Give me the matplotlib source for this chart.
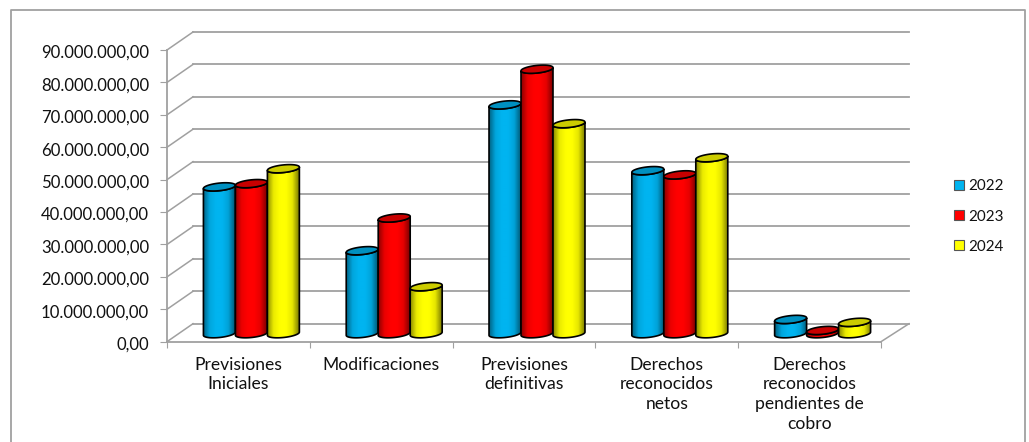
import numpy as np
import matplotlib
matplotlib.use('Agg')
import matplotlib.pyplot as plt
from matplotlib.patches import PathPatch, Patch, Polygon
from matplotlib.path import Path
from matplotlib.colors import LinearSegmentedColormap, to_rgb
from matplotlib.transforms import Affine2D, IdentityTransform

plt.rcParams['font.family'] = ['Lato', 'DejaVu Sans']

categories = ['Previsiones\nIniciales', 'Modificaciones', 'Previsiones\ndefinitivas',
              'Derechos\nreconocidos\nnetos', 'Derechos\nreconocidos\npendientes de\ncobro']
years = ['2022', '2023', '2024']
v2022 = [45.3e6, 25.6e6, 70.6e6, 50.3e6, 4.4e6]
v2023 = [46.3e6, 35.7e6, 81.6e6, 49.0e6, 1.0e6]
v2024 = [50.9e6, 14.5e6, 64.8e6, 54.3e6, 3.5e6]
yticks = [0, 10e6, 20e6, 30e6, 40e6, 50e6, 60e6, 70e6, 80e6, 90e6]
ylabels = ['0,00', '10.000.000,00', '20.000.000,00', '30.000.000,00', '40.000.000,00',
           '50.000.000,00', '60.000.000,00', '70.000.000,00', '80.000.000,00', '90.000.000,00']

series = [v2022, v2023, v2024]
colors = ['#00B4F0', '#FF0000', '#FFFF00']
tops = ['#0090C0', '#C80000', '#CCCC00']
grey = '#A0A0A0'

W, H = 1029, 442
fig = plt.figure(figsize=(W / 100, H / 100), dpi=100)

# frame around the chart, bottom edge is cut off in the original
fig.add_artist(plt.Line2D([10.5 / W, 10.5 / W, 1025 / W, 1025 / W],
                          [0, 1 - 9.5 / H, 1 - 9.5 / H, 0], color=grey, lw=1.3))

# front plane of the 3d box
ax = fig.add_axes([167 / W, 1 - 341.7 / H, 714 / W, 291.7 / H])
ax.set_xlim(0, 5)
ax.set_ylim(0, 90e6)
ax.patch.set_alpha(0)
for s in ['top', 'right']:
    ax.spines[s].set_visible(False)
for s in ['left', 'bottom']:
    ax.spines[s].set_color(grey)
    ax.spines[s].set_linewidth(1.3)

ax.set_yticks(yticks)
ax.set_yticklabels(ylabels, fontsize=12.1, color='#111111')
ax.tick_params(axis='y', length=5, color=grey, pad=8)
for lbl in ax.get_yticklabels():
    lbl.set_transform(lbl.get_transform() + Affine2D().translate(0, -1.5))
ax.set_xticks(range(6))
ax.set_xticklabels([])
ax.tick_params(axis='x', which='major', length=4, color=grey)
ax.set_xticks(np.arange(5) + 0.5, minor=True)
ax.set_xticklabels(categories, minor=True, fontsize=12.6, color='#111111', linespacing=1.27)
ax.tick_params(axis='x', which='minor', length=0, pad=11)

depth = Affine2D().translate(26, 18)
back = ax.transData + depth
wall_end = 5 + 2 / 142.8
for t in yticks:
    if t > 0:
        ax.plot([0, wall_end], [t, t], color=grey, lw=1.3, transform=back, clip_on=False, zorder=1)
    x0, y0 = ax.transData.transform((0, t))
    ax.plot([x0, x0 + 26], [y0, y0 + 18], color=grey, lw=1.1,
            transform=IdentityTransform(), clip_on=False, zorder=1)
x0, y0 = ax.transData.transform((5, 0))
ax.plot([x0, x0 + 28], [y0, y0 + 18], color=grey, lw=1.1,
        transform=IdentityTransform(), clip_on=False, zorder=1)
ax.plot([0, wall_end], [0, 0], color=grey, lw=1.3, transform=back, clip_on=False, zorder=1)


def cylinder(x, value, color, top, z):
    cx, base = ax.transData.transform((x, 0)) + (13, 8)
    _, head = ax.transData.transform((x, value)) + (13, 8)
    x1, _ = ax.transData.transform((x + bar_w / 2, 0)) + (13, 8)
    rx = x1 - cx
    ry, tilt = 3.8, 1.6

    t = np.linspace(np.pi, 2 * np.pi, 40)
    low_x = cx + rx * np.cos(t)
    low_y = base + ry * np.sin(t) + tilt * np.cos(t)
    t2 = t[::-1]
    up_x = cx + rx * np.cos(t2)
    up_y = head + ry * np.sin(t2) + tilt * np.cos(t2)
    pts = np.vstack([np.column_stack([low_x, low_y]), np.column_stack([up_x, up_y])])
    body = Polygon(pts, closed=True, transform=IdentityTransform(), fc='none',
                   ec='black', lw=1.2, zorder=z + 0.2, clip_on=False)
    ax.add_patch(body)

    c = np.array(to_rgb(color))
    cmap = LinearSegmentedColormap.from_list('c', [c * 0.55, c * 0.92, c, c, c * 0.9, c * 0.5])
    img = ax.imshow(np.linspace(0, 1, 64)[None, :], cmap=cmap, aspect='auto',
                    extent=(cx - rx, cx + rx, base - ry - 3, head + ry + 3),
                    transform=IdentityTransform(), zorder=z)
    clip = PathPatch(Path(np.vstack([pts, pts[:1]])), transform=IdentityTransform())
    img.set_clip_path(clip)

    t = np.linspace(0, 2 * np.pi, 80)
    lid = np.column_stack([cx + rx * np.cos(t), head + ry * np.sin(t) + tilt * np.cos(t)])
    ax.add_patch(Polygon(lid, closed=True, transform=IdentityTransform(), fc=top,
                         ec='black', lw=1.2, zorder=z + 0.3, clip_on=False))


bar_w = 0.224
for i in range(len(categories)):
    for j, vals in enumerate(series):
        cylinder(i + 0.5 + (j - 1) * bar_w, vals[i], colors[j], tops[j], 3 + j)

ax.set_xlim(0, 5)
ax.set_ylim(0, 90e6)
ax.set_aspect('auto')

handles = [Patch(fc=c, ec='#555555', lw=0.8) for c in colors]
fig.legend(handles, years, loc='center left', bbox_to_anchor=(940 / W, 1 - 216.5 / H),
           frameon=False, fontsize=10.9, handlelength=0.66, handleheight=0.66,
           handletextpad=0.3, labelspacing=1.06, labelcolor='#111111')

fig.savefig('out.png', dpi=100)
